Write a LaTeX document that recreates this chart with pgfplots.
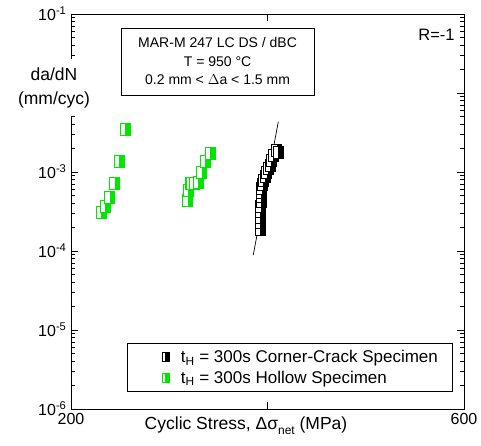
\documentclass[border=0pt]{standalone}
\usepackage{pgfplots}
\pgfplotsset{compat=1.18}
\usepackage{fontspec}
\setmainfont{Liberation Sans}
\definecolor{hgreen}{RGB}{0,230,0}

% square mark: left half white, right half filled
\pgfdeclareplotmark{hsq}{%
  \begin{pgfscope}
    \pgfsetfillcolor{white}
    \pgfpathrectangle{\pgfpoint{-\pgfplotmarksize}{-1.2\pgfplotmarksize}}{\pgfpoint{2\pgfplotmarksize}{2.4\pgfplotmarksize}}
    \pgfusepathqfill
  \end{pgfscope}
  \pgfpathrectangle{\pgfpoint{0pt}{-1.2\pgfplotmarksize}}{\pgfpoint{\pgfplotmarksize}{2.4\pgfplotmarksize}}
  \pgfusepathqfill
  \pgfpathrectangle{\pgfpoint{-\pgfplotmarksize}{-1.2\pgfplotmarksize}}{\pgfpoint{2\pgfplotmarksize}{2.4\pgfplotmarksize}}
  \pgfusepathqstroke
}

\begin{document}
\begin{tikzpicture}[x=1pt,y=1pt]
\path[use as bounding box] (-71,-36) rectangle (410,409);
\begin{axis}[
    scale only axis, width=393pt, height=395pt,
    ymode=log, xmin=200, xmax=600, ymin=1e-6, ymax=1e-1,
    xtick={200,400,600}, xticklabels={200,,600},
    ytick={1e-6,1e-5,1e-4,1e-3,1e-2,1e-1},
    yticklabels={10\textsuperscript{-6},10\textsuperscript{-5},10\textsuperscript{-4},10\textsuperscript{-3},,10\textsuperscript{-1}},
    tick align=inside, major tick length=7pt, minor tick length=4pt,
    tick style={black, line width=0.8pt},
    axis line style={line width=0.9pt},
    ticklabel style={font=\fontsize{16}{18}\selectfont},
    xticklabel style={yshift=-1pt},
    yticklabel style={xshift=-1pt},
    clip=false,
    legend style={at={(0.97,0.043)}, anchor=south east, draw=black, line width=0.6pt,
        font=\fontsize{17}{19}\selectfont, inner xsep=12pt, inner ysep=5pt,
        row sep=3pt, cells={anchor=west}},
    legend cell align=left,
    legend image code/.code={%
        \path (-26pt,0pt) (13pt,0pt);
        \draw[#1, mark size=3.6pt, only marks] plot coordinates {(0pt,0pt)};},
]
% corner-crack specimen (black)
\addplot[only marks, mark=hsq, mark size=5pt,
    mark options={draw=black, fill=black, line width=0.6pt}]
    coordinates {
    (392.4,1.9e-4) (392.6,2.3e-4) (392.4,2.7e-4) (392.8,3.2e-4) (393,3.7e-4)
    (393.2,4.3e-4) (393.4,4.9e-4) (393.7,5.5e-4) (394,6.2e-4) (395,7.0e-4)
    (395.7,7.9e-4) (397.5,8.7e-4) (399,9.8e-4) (400.8,1.1e-3) (402.5,1.23e-3)
    (404,1.4e-3) (406,1.64e-3) (409.3,1.9e-3) (411,1.8e-3)
};
\addlegendentry{t\textsubscript{H} = 300s Corner-Crack Specimen}
% hollow specimen (green)
\addplot[only marks, mark=hsq, mark size=5pt,
    mark options={draw=hgreen, fill=hgreen, line width=0.6pt}]
    coordinates {
    (230.5,3.1e-4) (234.6,3.7e-4) (239.4,4.8e-4) (244.5,7.3e-4) (249,1.35e-3) (255,3.5e-3)
    (318.8,4.4e-4) (319.4,5.9e-4) (321,7.3e-4) (322.8,7.1e-4) (325,7.3e-4)
    (329.6,7.5e-4) (333,1.0e-3) (336.4,1.35e-3) (341.5,1.75e-3)
};
\addlegendentry{t\textsubscript{H} = 300s Hollow Specimen}
% fitted line
\addplot[black, line width=0.7pt, forget plot] coordinates {(385.5,8.9e-5) (411,4.33e-3)};
\node[draw=black, line width=0.6pt, align=center, fill=white,
    font=\fontsize{14}{18.5}\selectfont, inner xsep=10pt, inner ysep=4pt,
    minimum width=193pt, minimum height=67pt]
    at (rel axis cs:0.373,0.88) {MAR-M 247 LC DS / dBC\\T = 950 °C\\0.2 mm < $\Delta$a < 1.5 mm};
\node[font=\fontsize{16.5}{19}\selectfont] at (rel axis cs:0.93,0.947) {R=-1};
\end{axis}
\node[fill=white, align=center, font=\fontsize{17.5}{24}\selectfont, inner xsep=1pt, inner ysep=8pt]
    at (-17,321.5) {da/dN\\(mm/cyc)};
\node[font=\fontsize{17.5}{20}\selectfont] at (175,-17)
    {Cyclic Stress, Δσ\raisebox{-0.5ex}{\fontsize{12}{14}\selectfont net} (MPa)};
\end{tikzpicture}
\end{document}
